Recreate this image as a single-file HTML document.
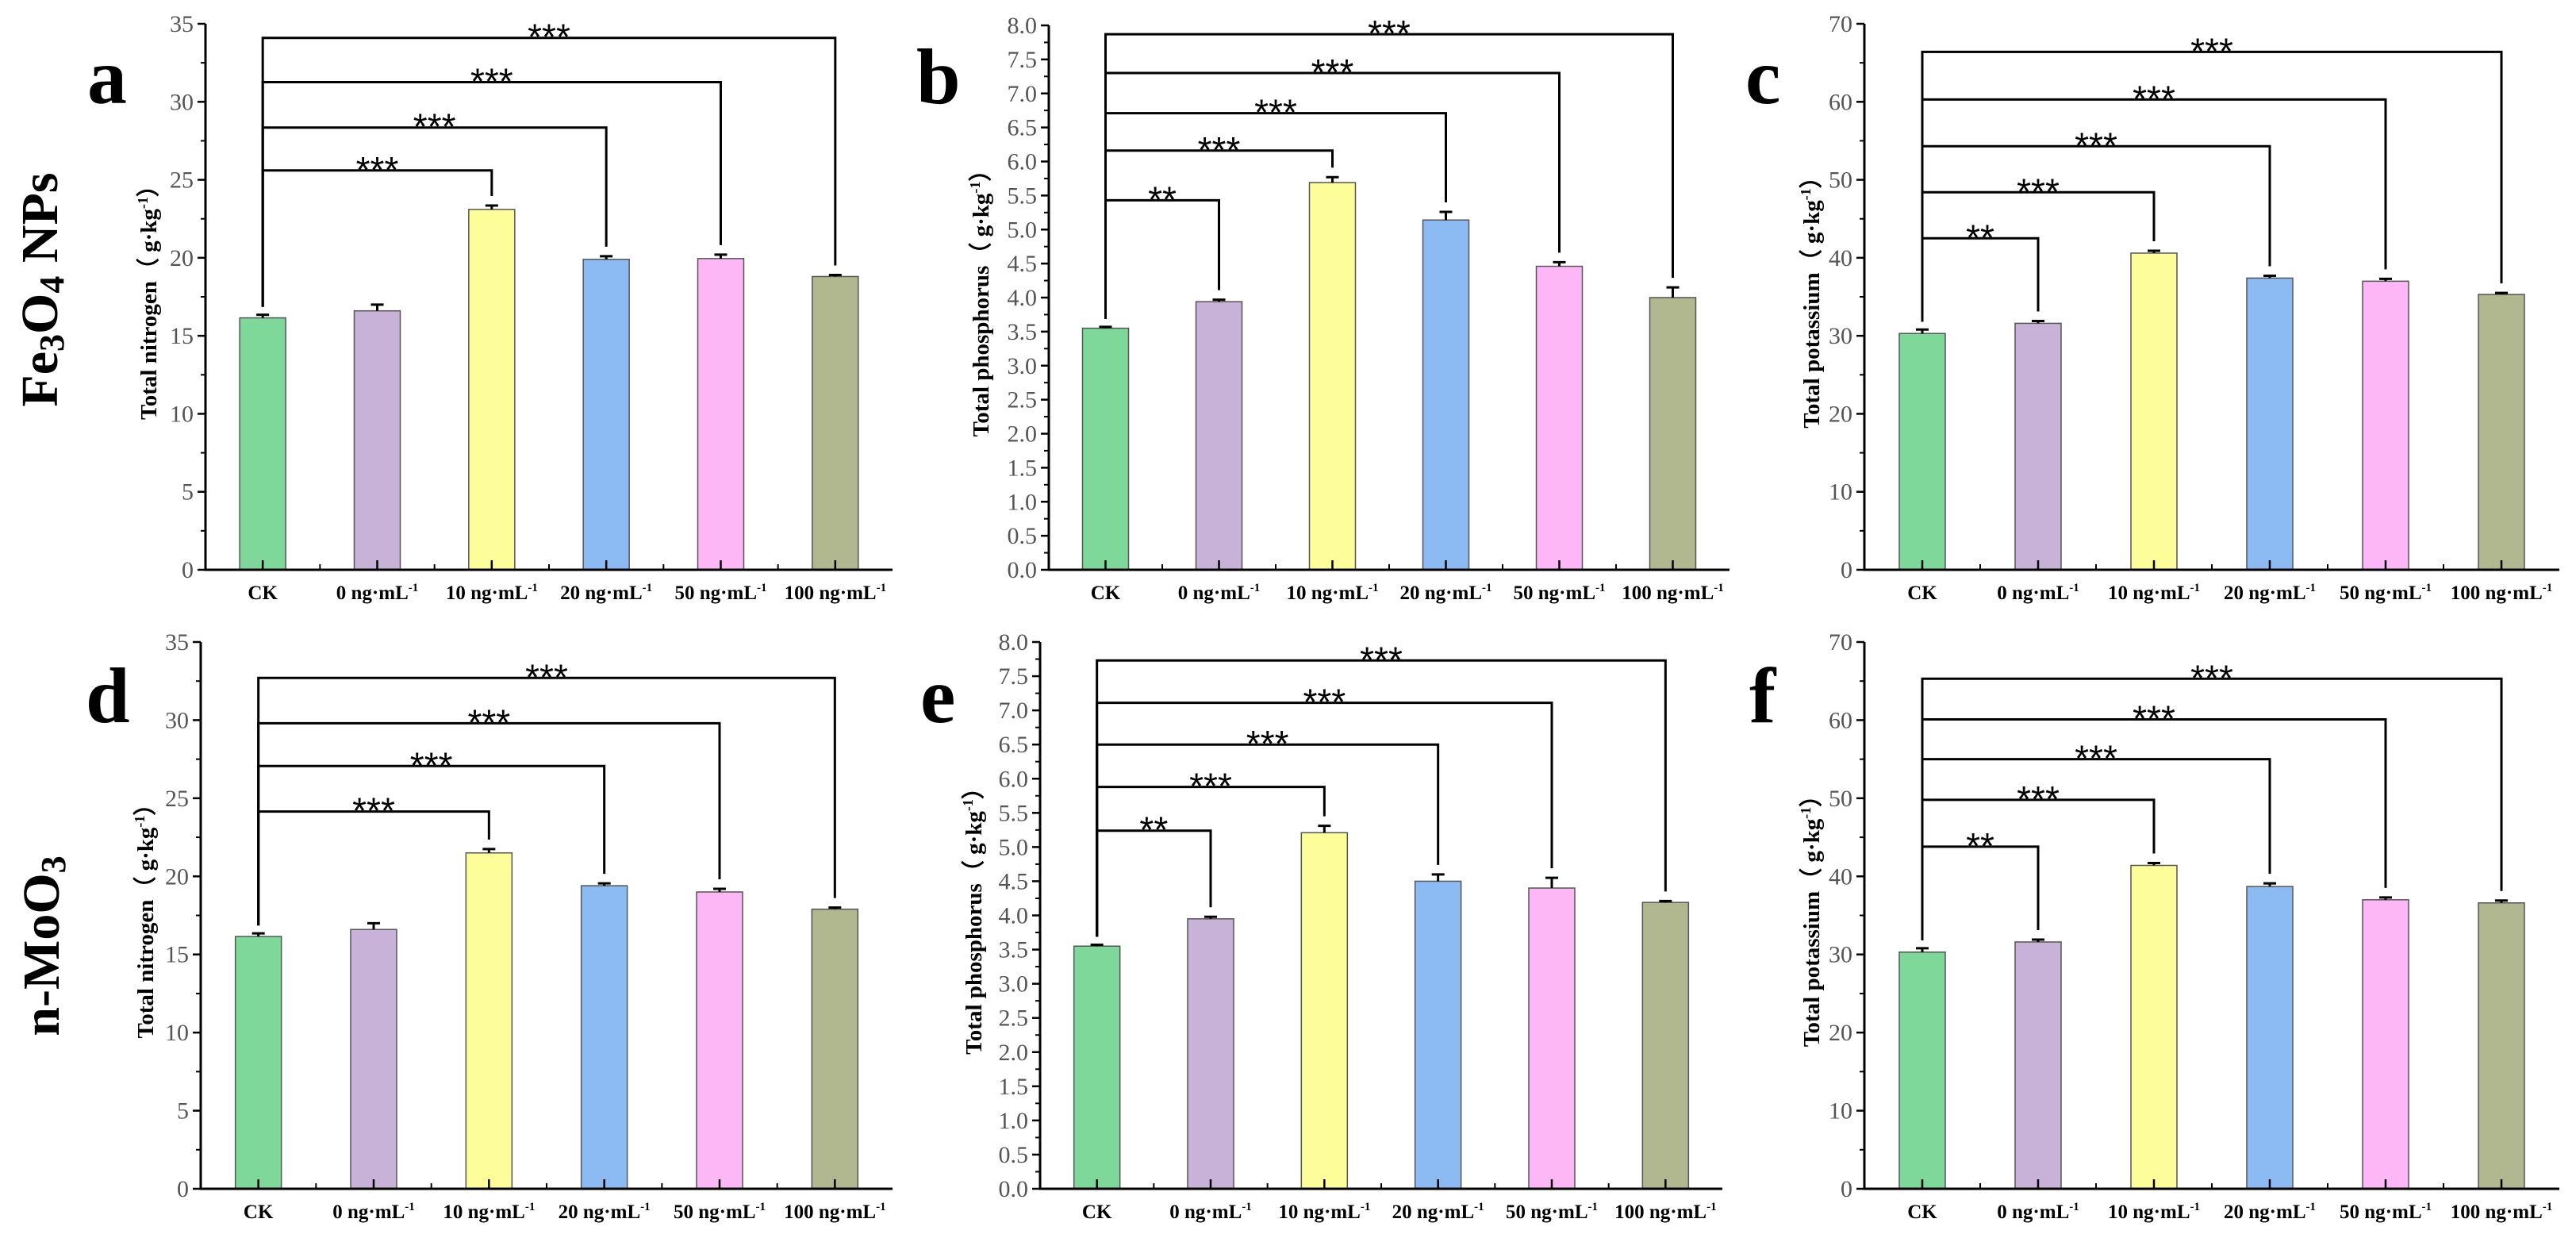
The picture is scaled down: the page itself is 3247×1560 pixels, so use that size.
<!DOCTYPE html>
<html><head><meta charset="utf-8"><style>
html,body{margin:0;padding:0;background:#fff;}
svg{display:block;}
</style></head><body>
<svg id="fig" width="3247" height="1560" viewBox="0 0 3247 1560" xmlns="http://www.w3.org/2000/svg">
<text transform="translate(72,365) rotate(-90)" text-anchor="middle" font-family="Liberation Serif, serif" font-weight="bold" font-size="66">Fe<tspan font-size="44" dy="8">3</tspan><tspan dy="-8">O</tspan><tspan font-size="44" dy="8">4</tspan><tspan dy="-8"> NPs</tspan></text>
<text transform="translate(74,1192) rotate(-90)" text-anchor="middle" font-family="Liberation Serif, serif" font-weight="bold" font-size="66">n-MoO<tspan font-size="44" dy="8">3</tspan></text>
</svg>
<script>
const categories = ["CK","0 ng·mL","10 ng·mL","20 ng·mL","50 ng·mL","100 ng·mL"];
const colors = ["#7ed89a","#c8b2d8","#fdfd9a","#8cbbf4","#fdb7f7","#b1b78e"];
const nitrogenFe = [16.15,16.6,23.1,19.9,19.95,18.8];
const nitrogenFeErr = [0.2,0.4,0.25,0.2,0.25,0.1];
const phosphorusFe = [3.55,3.94,5.69,5.14,4.46,4.0];
const phosphorusFeErr = [0.02,0.03,0.08,0.12,0.06,0.15];
const potassiumFe = [30.3,31.6,40.6,37.4,37.0,35.3];
const potassiumFeErr = [0.5,0.3,0.3,0.3,0.3,0.2];
const nitrogenMo = [16.15,16.6,21.5,19.4,19.0,17.9];
const nitrogenMoErr = [0.2,0.4,0.25,0.15,0.2,0.1];
const phosphorusMo = [3.55,3.95,5.21,4.5,4.4,4.19];
const phosphorusMoErr = [0.02,0.03,0.1,0.1,0.15,0.02];
const potassiumMo = [30.3,31.6,41.4,38.7,37.0,36.6];
const potassiumMoErr = [0.5,0.3,0.3,0.4,0.3,0.3];
const bracketTargetsA = [2,3,4,5];
const bracketHeightsA = [25.6,28.35,31.26,34.1];
const bracketLabelsA = ["***","***","***","***"];
const bracketTargetsB = [1,2,3,4,5];
const bracketHeightsB = [5.43,6.16,6.71,7.3,7.87];
const bracketLabelsB = ["**","***","***","***","***"];
const bracketTargetsC = [1,2,3,4,5];
const bracketHeightsC = [42.5,48.4,54.3,60.3,66.4];
const bracketLabelsC = ["**","***","***","***","***"];
const bracketTargetsD = [2,3,4,5];
const bracketHeightsD = [24.15,27.06,29.8,32.7];
const bracketLabelsD = ["***","***","***","***"];
const bracketTargetsE = [1,2,3,4,5];
const bracketHeightsE = [5.24,5.88,6.5,7.11,7.73];
const bracketLabelsE = ["**","***","***","***","***"];
const bracketTargetsF = [1,2,3,4,5];
const bracketHeightsF = [43.8,49.8,55.0,60.1,65.3];
const bracketLabelsF = ["**","***","***","***","***"];
const nitrogenTicks = ["0","5","10","15","20","25","30","35"];
const phosphorusTicks = ["0.0","0.5","1.0","1.5","2.0","2.5","3.0","3.5","4.0","4.5","5.0","5.5","6.0","6.5","7.0","7.5","8.0"];
const potassiumTicks = ["0","10","20","30","40","50","60","70"];

const NS="http://www.w3.org/2000/svg";
const svg=document.getElementById('fig');
function mk(tag,attrs,parent){const e=document.createElementNS(NS,tag);for(const k in attrs)e.setAttribute(k,attrs[k]);(parent||svg).appendChild(e);return e;}

function panel(p){
  const g=mk('g',{});
  
  
  const max=parseFloat(p.ticks[p.ticks.length-1]);
  const y=v=>p.bottom-(v/max)*(p.bottom-p.top);
  const band=(p.x1-p.x0)/categories.length;
  const xc=i=>p.x0+band*(i+0.5);
  const L=mk('text',{x:p.lx,y:p.ly,'font-family':'Liberation Serif, serif','font-weight':'bold','font-size':100},g);
  
  
  L.textContent=p.id;
  const yt=mk('text',{transform:`translate(${p.tx},${(p.top+p.bottom)/2}) rotate(-90)`,'text-anchor':'middle','font-family':'Liberation Serif, serif','font-weight':'bold','font-size':29},g);
  
  
  yt.innerHTML=p.title+'（ g·kg<tspan dy="-11" font-size="18">-1</tspan><tspan dy="11">）</tspan>';
  for(let i=0;i<categories.length;i++){
    const v=p.vals[i],e=p.errs[i];
    const r=mk('rect',{x:xc(i)-29,y:y(v),width:58,height:p.bottom-y(v),fill:colors[i],stroke:'#555','stroke-width':1.5},g);
    
    
    const eb=mk('path',{d:`M${xc(i)} ${y(v)} V${y(v+e)} M${xc(i)-8} ${y(v+e)} H${xc(i)+8}`,stroke:'#000','stroke-width':3,fill:'none'},g);
    
    
  }
  const ax=mk('path',{d:`M${p.x0} ${p.top} V${p.bottom} H${p.x1}`,stroke:'#000','stroke-width':3,fill:'none'},g);
  
  
  const step=max/(p.ticks.length-1);
  for(let k=0;k<p.ticks.length;k++){
    const v=step*k;
    mk('line',{x1:p.x0-10,x2:p.x0,y1:y(v),y2:y(v),stroke:'#000','stroke-width':2.5},g);
    if(k<p.ticks.length-1) mk('line',{x1:p.x0-6,x2:p.x0,y1:y(v+step/2),y2:y(v+step/2),stroke:'#000','stroke-width':2},g);
    const t=mk('text',{x:p.x0-15,y:y(v)+10,'text-anchor':'end','font-family':'Liberation Serif, serif','font-size':30,fill:'#555'},g);
    
    
    t.textContent=p.ticks[k];
  }
  for(let i=0;i<categories.length;i++){
    mk('line',{x1:xc(i),x2:xc(i),y1:p.bottom,y2:p.bottom-12,stroke:'#000','stroke-width':2.5},g);
    if(i>0) mk('line',{x1:p.x0+band*i,x2:p.x0+band*i,y1:p.bottom,y2:p.bottom-7,stroke:'#000','stroke-width':2},g);
    const t=mk('text',{x:xc(i),y:p.bottom+37,'text-anchor':'middle','font-family':'Liberation Serif, serif','font-weight':'bold','font-size':25},g);
    
    
    t.innerHTML=i===0?categories[i]:categories[i]+'<tspan dy="-10" font-size="15">-1</tspan>';
  }
  const ckTop=y(p.vals[0]+p.errs[0])-10;
  for(let b=0;b<p.bt.length;b++){
    const j=p.bt[b],h=y(p.bh[b]);
    const end=y(p.vals[j]+p.errs[j])-12;
    const br=mk('path',{d:`M${xc(0)} ${ckTop} V${h} H${xc(j)} V${end}`,stroke:'#000','stroke-width':3,fill:'none'},g);
    
    
    const s=mk('text',{x:(xc(0)+xc(j))/2,y:h+15,'text-anchor':'middle','font-family':'Liberation Sans, sans-serif','font-size':46},g);
    
    
    s.textContent=p.bl[b];
  }
}
panel({id:'a',x0:259,x1:1125,top:30,bottom:718,vals:nitrogenFe,errs:nitrogenFeErr,ticks:nitrogenTicks,title:'Total nitrogen',tx:197,lx:110,ly:130,bt:bracketTargetsA,bh:bracketHeightsA,bl:bracketLabelsA});
panel({id:'b',x0:1322,x1:2180,top:32,bottom:718,vals:phosphorusFe,errs:phosphorusFeErr,ticks:phosphorusTicks,title:'Total phosphorus',tx:1246,lx:1155,ly:130,bt:bracketTargetsB,bh:bracketHeightsB,bl:bracketLabelsB});
panel({id:'c',x0:2350,x1:3226,top:30,bottom:718,vals:potassiumFe,errs:potassiumFeErr,ticks:potassiumTicks,title:'Total potassium',tx:2293,lx:2200,ly:130,bt:bracketTargetsC,bh:bracketHeightsC,bl:bracketLabelsC});
panel({id:'d',x0:253,x1:1125,top:809,bottom:1498,vals:nitrogenMo,errs:nitrogenMoErr,ticks:nitrogenTicks,title:'Total nitrogen',tx:193,lx:108,ly:910,bt:bracketTargetsD,bh:bracketHeightsD,bl:bracketLabelsD});
panel({id:'e',x0:1311,x1:2171,top:809,bottom:1498,vals:phosphorusMo,errs:phosphorusMoErr,ticks:phosphorusTicks,title:'Total phosphorus',tx:1237,lx:1160,ly:910,bt:bracketTargetsE,bh:bracketHeightsE,bl:bracketLabelsE});
panel({id:'f',x0:2350,x1:3226,top:809,bottom:1498,vals:potassiumMo,errs:potassiumMoErr,ticks:potassiumTicks,title:'Total potassium',tx:2293,lx:2205,ly:910,bt:bracketTargetsF,bh:bracketHeightsF,bl:bracketLabelsF});
</script>
</body></html>
